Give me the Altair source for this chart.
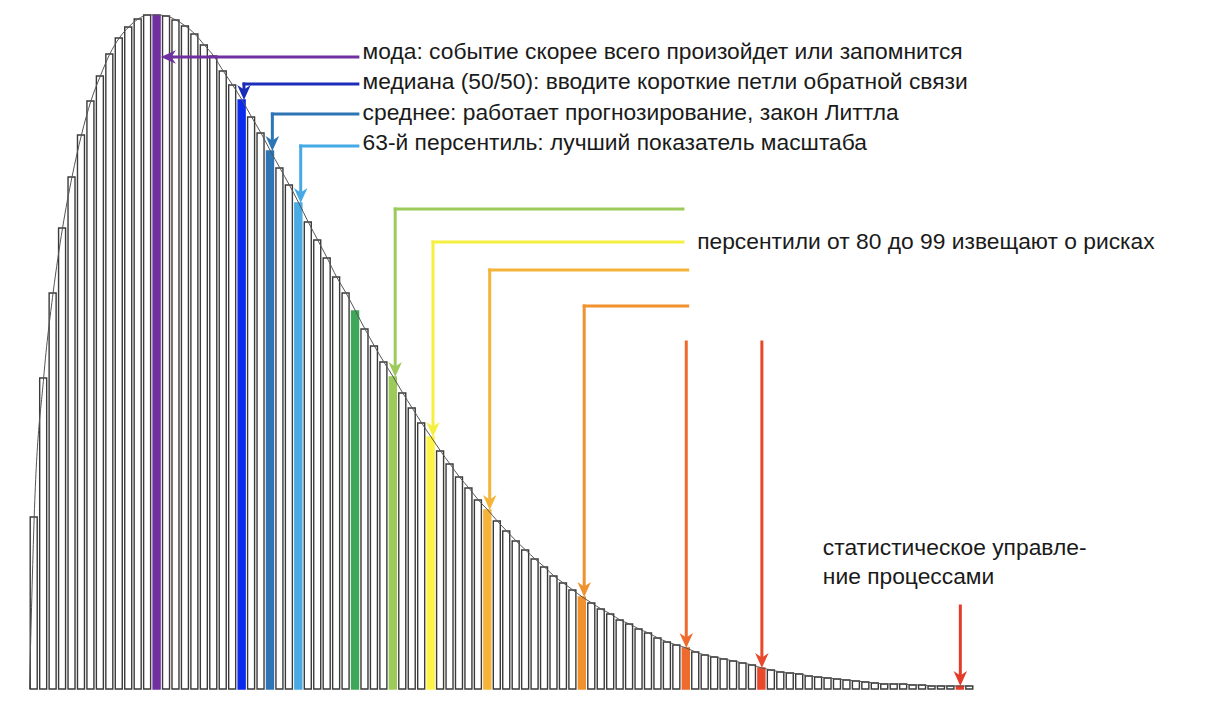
import altair as alt
import pandas as pd

# bar heights (100 bins)
heights = [172, 311, 396, 461, 512, 554, 588, 613, 635, 651,
           662, 670, 674, 674, 673, 669, 663, 655, 644, 633,
           618, 604, 589, 572, 556, 538, 521, 504, 486, 467,
           449, 431, 412, 396, 378, 360, 343, 327, 312, 296,
           281, 266, 252, 238, 225, 212, 201, 189, 179, 168,
           158, 148, 139, 130, 122, 113, 106, 99, 92, 86,
           80, 75, 69, 65, 60, 56, 51, 47, 44, 41,
           37, 34, 32, 30, 28, 26, 24, 21, 19, 17,
           16, 15, 13, 12, 11, 10, 9, 8, 7, 6,
           5, 5, 5, 4, 4, 3, 3, 3, 3, 3]

# highlighted bars
hl_index = [13, 22, 25, 28, 34, 38, 42, 48, 58, 69, 77, 98]
hl_color = ["#7030A0", "#0A2AEE", "#2E75B6", "#4AAAE4", "#3FA75A", "#9CCB5C",
            "#FFF445", "#F4B43A", "#F0922E", "#EE6B2D", "#E9482B", "#E53B2B"]

# annotations: target bar, colour, elbow level, start x of horizontal leg, kind
ann_bar = [13, 22, 25, 28, 38, 42, 48, 58, 69, 77, 98]
ann_color = ["#7030A0", "#1A2DB8", "#2E75B6", "#45A9E5", "#9CCB5C", "#F5EF40",
             "#F4B43A", "#F0922E", "#EE6B2D", "#E9482B", "#E53B2B"]
ann_level = [632, 605, 575, 543, 480, 447, 419, 383, 347, 347, 83]
ann_from = [34.8, 34.8, 34.8, 34.8, 69.2, 69.2, 69.7, 69.7, None, None, None]
ann_kind = ["left", "elbow", "elbow", "elbow", "elbow", "elbow", "elbow", "elbow",
            "down", "down", "down"]

label_text = ["мода: событие скорее всего произойдет или запомнится",
              "медиана (50/50): вводите короткие петли обратной связи",
              "среднее: работает прогнозирование, закон Литтла",
              "63-й персентиль: лучший показатель масштаба",
              "персентили от 80 до 99 извещают о рисках",
              "статистическое управле-",
              "ние процессами"]
label_x = [35.3, 35.3, 35.3, 35.3, 70.7, 84.0, 84.0]
label_y = [637, 607, 576, 546, 447, 141, 112]

# ---- tables ----
hl = dict(zip(hl_index, hl_color))
bars = pd.DataFrame({
    "x0": [i + 0.13 for i in range(len(heights))],
    "x1": [i + 0.87 for i in range(len(heights))],
    "h": heights,
    "fill": [hl.get(i, "#FFFFFF") for i in range(len(heights))],
    "stroke": [hl.get(i, "#3a3a3a") for i in range(len(heights))],
})
bars["y0"] = 0

curve = pd.DataFrame({"x": [0.05] + [i + 0.55 for i in range(len(heights))],
                      "y": [0] + heights})

segs, heads = [], []
for b, c, lvl, fx, kind in zip(ann_bar, ann_color, ann_level, ann_from, ann_kind):
    if kind == "left":
        tip = b + 0.95
        segs.append(dict(x=fx, x2=tip + 0.8, y=lvl, y2=lvl, c=c))
        heads.append(dict(x=tip, y=lvl, a=90, c=c))
    else:
        ax = b + 0.75 if kind == "elbow" else b + 0.55
        if fx is not None:
            segs.append(dict(x=fx, x2=ax, y=lvl, y2=lvl, c=c))
        segs.append(dict(x=ax, x2=ax, y=lvl, y2=heights[b] + 10, c=c))
        heads.append(dict(x=ax, y=heights[b], a=0, c=c))
segs = pd.DataFrame(segs)
heads = pd.DataFrame(heads)
labels = pd.DataFrame({"x": label_x, "y": label_y, "t": label_text})

xs = alt.Scale(domain=[-2.222, 123.7], nice=False, zero=False)
ys = alt.Scale(domain=[-9, 681], nice=False, zero=False)

bar_layer = alt.Chart(bars).mark_rect(strokeWidth=1.4).encode(
    x=alt.X("x0:Q", scale=xs, axis=None), x2="x1:Q",
    y=alt.Y("y0:Q", scale=ys, axis=None), y2="h:Q",
    fill=alt.Fill("fill:N", scale=None),
    stroke=alt.Stroke("stroke:N", scale=None),
)

curve_layer = alt.Chart(curve).mark_line(color="#555555", strokeWidth=1,
                                          interpolate="monotone").encode(
    x=alt.X("x:Q", scale=xs, axis=None), y=alt.Y("y:Q", scale=ys, axis=None))

seg_layer = alt.Chart(segs).mark_rule(strokeWidth=3, strokeCap="square").encode(
    x=alt.X("x:Q", scale=xs, axis=None), x2="x2:Q",
    y=alt.Y("y:Q", scale=ys, axis=None), y2="y2:Q",
    color=alt.Color("c:N", scale=None))

head_layer = alt.Chart(heads).mark_point(
    shape="M0,0 L-0.45,-1 L0,-0.7 L0.45,-1 Z", filled=True, opacity=1,
    size=900, strokeWidth=0).encode(
    x=alt.X("x:Q", scale=xs, axis=None), y=alt.Y("y:Q", scale=ys, axis=None),
    angle=alt.Angle("a:Q", scale=None),
    fill=alt.Fill("c:N", scale=None))

text_layer = alt.Chart(labels).mark_text(
    align="left", baseline="middle", font="Liberation Sans", fontSize=22.8,
    color="#1a1a1a").encode(
    x=alt.X("x:Q", scale=xs, axis=None), y=alt.Y("y:Q", scale=ys, axis=None),
    text="t:N")

chart = alt.layer(bar_layer, curve_layer, seg_layer, head_layer, text_layer).properties(
    width=1190, height=690, padding=0, autosize=alt.AutoSizeParams(type="none")
).configure_view(stroke=None)

chart.save("out.html", embed_options={"renderer": "svg", "actions": False})
